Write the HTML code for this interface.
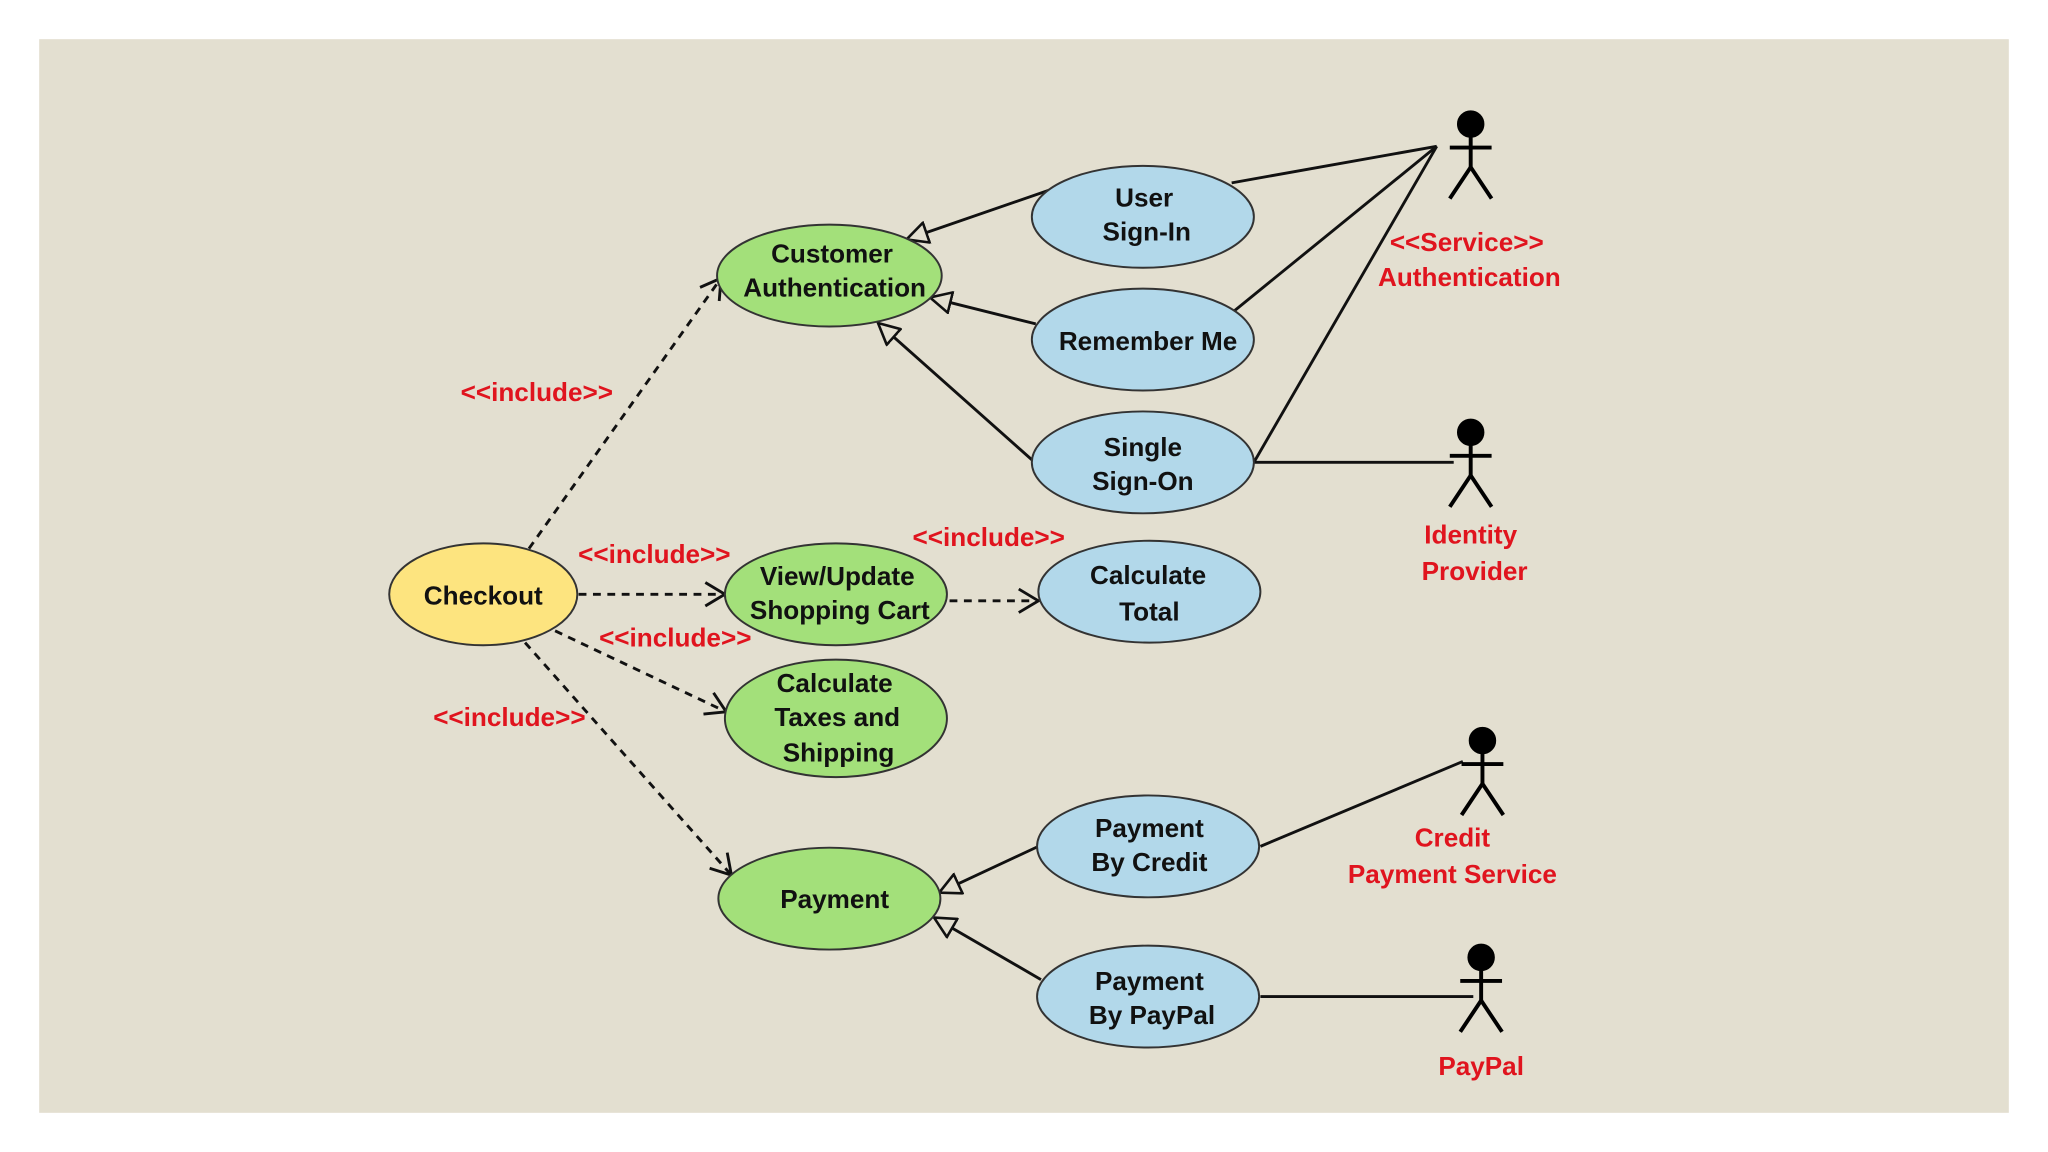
<!DOCTYPE html>
<html><head><meta charset="utf-8"><style>
html,body{margin:0;padding:0;background:#fff;}
svg{display:block;}
text{font-family:"Liberation Sans",sans-serif;font-size:20px;}
.b{fill:#111;font-weight:bold;}
.r{fill:#e0141e;font-weight:bold;}
</style></head><body>
<svg width="2048" height="1152" viewBox="0 0 1568 882" preserveAspectRatio="none" xmlns="http://www.w3.org/2000/svg">
<defs>
<marker id="tri" markerWidth="18" markerHeight="18" refX="16" refY="9" orient="auto" markerUnits="userSpaceOnUse">
<path d="M1,1 L17,9 L1,17 Z" fill="#e3dfd0" stroke="#111" stroke-width="2"/></marker>
<marker id="open" markerWidth="20" markerHeight="22" refX="17" refY="11" orient="auto" markerUnits="userSpaceOnUse">
<path d="M2,2 L17,11 L2,20" fill="none" stroke="#111" stroke-width="2.2"/></marker>
</defs>
<rect x="0" y="0" width="1568" height="882" fill="#fff"/>
<rect x="30" y="30" width="1508" height="822" fill="#e3dfd0"/>
<g stroke="#111" stroke-width="2.2" fill="none">
<line x1="943" y1="140" x2="1100" y2="112"/>
<line x1="945" y1="238" x2="1100" y2="112"/>
<line x1="960" y1="354" x2="1100" y2="112"/>
<line x1="960" y1="354" x2="1113" y2="354"/>
<line x1="965" y1="648" x2="1120" y2="583"/>
<line x1="965" y1="763" x2="1128" y2="763"/>
<line x1="805" y1="145" x2="695" y2="183" marker-end="url(#tri)"/>
<line x1="793" y1="248" x2="713" y2="228" marker-end="url(#tri)"/>
<line x1="790" y1="352" x2="673" y2="248" marker-end="url(#tri)"/>
<line x1="795" y1="648" x2="720" y2="683" marker-end="url(#tri)"/>
<line x1="797" y1="750" x2="716" y2="703" marker-end="url(#tri)"/>
<g stroke-dasharray="6,5">
<line x1="405" y1="420" x2="552" y2="213" marker-end="url(#open)"/>
<line x1="443" y1="455" x2="555" y2="455" marker-end="url(#open)"/>
<line x1="425" y1="483" x2="556" y2="545" marker-end="url(#open)"/>
<line x1="402" y1="492" x2="560" y2="670" marker-end="url(#open)"/>
<line x1="727" y1="460" x2="795" y2="460" marker-end="url(#open)"/>
</g>
</g>
<g stroke="#333" stroke-width="1.5">
<ellipse cx="370" cy="455" rx="72" ry="39" fill="#fde47f"/>
<ellipse cx="635" cy="211" rx="86" ry="39" fill="#a3e07a"/>
<ellipse cx="640" cy="455" rx="85" ry="39" fill="#a3e07a"/>
<ellipse cx="640" cy="550" rx="85" ry="45" fill="#a3e07a"/>
<ellipse cx="635" cy="688" rx="85" ry="39" fill="#a3e07a"/>
<ellipse cx="875" cy="166" rx="85" ry="39" fill="#b2d8ea"/>
<ellipse cx="875" cy="260" rx="85" ry="39" fill="#b2d8ea"/>
<ellipse cx="875" cy="354" rx="85" ry="39" fill="#b2d8ea"/>
<ellipse cx="880" cy="453" rx="85" ry="39" fill="#b2d8ea"/>
<ellipse cx="879" cy="648" rx="85" ry="39" fill="#b2d8ea"/>
<ellipse cx="879" cy="763" rx="85" ry="39" fill="#b2d8ea"/>
</g>
<g stroke="#000" stroke-width="3" fill="none">
<g transform="translate(1126,95)"><circle r="9" fill="#000"/><line x1="0" y1="9" x2="0" y2="33"/><line x1="-16" y1="18" x2="16" y2="18"/><line x1="0" y1="33" x2="-16" y2="57"/><line x1="0" y1="33" x2="16" y2="57"/></g>
<g transform="translate(1126,331)"><circle r="9" fill="#000"/><line x1="0" y1="9" x2="0" y2="33"/><line x1="-16" y1="18" x2="16" y2="18"/><line x1="0" y1="33" x2="-16" y2="57"/><line x1="0" y1="33" x2="16" y2="57"/></g>
<g transform="translate(1135,567)"><circle r="9" fill="#000"/><line x1="0" y1="9" x2="0" y2="33"/><line x1="-16" y1="18" x2="16" y2="18"/><line x1="0" y1="33" x2="-16" y2="57"/><line x1="0" y1="33" x2="16" y2="57"/></g>
<g transform="translate(1134,733)"><circle r="9" fill="#000"/><line x1="0" y1="9" x2="0" y2="33"/><line x1="-16" y1="18" x2="16" y2="18"/><line x1="0" y1="33" x2="-16" y2="57"/><line x1="0" y1="33" x2="16" y2="57"/></g>
</g>
<g text-anchor="middle">
<text x="370" y="463" class="b">Checkout</text>
<text x="637" y="201" class="b">Customer</text><text x="639" y="227" class="b">Authentication</text>
<text x="876" y="158" class="b">User</text><text x="878" y="184" class="b">Sign-In</text>
<text x="879" y="268" class="b">Remember Me</text>
<text x="875" y="349" class="b">Single</text><text x="875" y="375" class="b">Sign-On</text>
<text x="641" y="448" class="b">View/Update</text><text x="643" y="474" class="b">Shopping Cart</text>
<text x="879" y="447" class="b">Calculate</text><text x="880" y="475" class="b">Total</text>
<text x="639" y="530" class="b">Calculate</text><text x="641" y="556" class="b">Taxes and</text><text x="642" y="583" class="b">Shipping</text>
<text x="639" y="695" class="b">Payment</text>
<text x="880" y="641" class="b">Payment</text><text x="880" y="667" class="b">By Credit</text>
<text x="880" y="758" class="b">Payment</text><text x="882" y="784" class="b">By PayPal</text>
<text x="411" y="307" class="r">&lt;&lt;include&gt;&gt;</text>
<text x="501" y="431" class="r">&lt;&lt;include&gt;&gt;</text>
<text x="517" y="495" class="r">&lt;&lt;include&gt;&gt;</text>
<text x="390" y="556" class="r">&lt;&lt;include&gt;&gt;</text>
<text x="757" y="418" class="r">&lt;&lt;include&gt;&gt;</text>
<text x="1123" y="192" class="r">&lt;&lt;Service&gt;&gt;</text>
<text x="1125" y="219" class="r">Authentication</text>
<text x="1126" y="416" class="r">Identity</text>
<text x="1129" y="444" class="r">Provider</text>
<text x="1112" y="648" class="r">Credit</text>
<text x="1112" y="676" class="r">Payment Service</text>
<text x="1134" y="823" class="r">PayPal</text>
</g>
</svg>
</body></html>
